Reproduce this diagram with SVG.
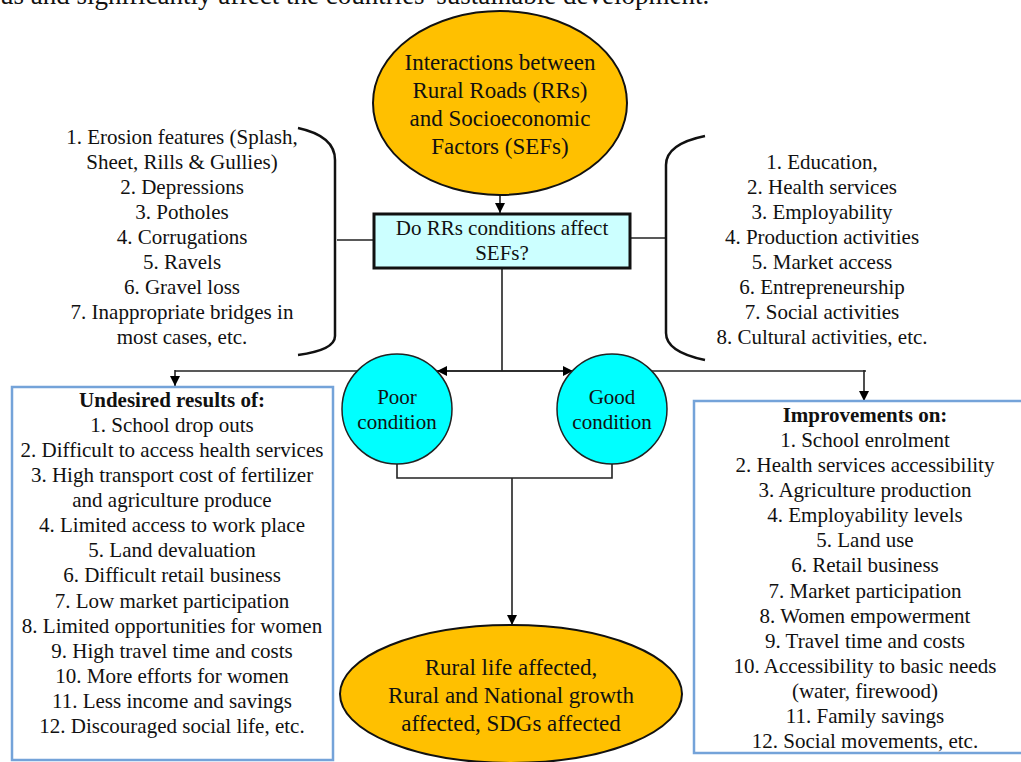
<svg xmlns="http://www.w3.org/2000/svg" width="1021" height="762" viewBox="0 0 1021 762">
<style>
text{font-family:"Liberation Serif","Times New Roman",serif;fill:#111;text-anchor:middle}
.t21{font-size:21px}
.t23{font-size:23px}
.b{font-weight:bold}
.ln{stroke:#222;stroke-width:1.6;fill:none}
.br{stroke:#111;stroke-width:2.5;fill:none}
.gold{fill:#ffc000;stroke:#111;stroke-width:2}
.cyan{fill:#00ffff;stroke:#222;stroke-width:1.5}
.blue{fill:#fff;stroke:#74a3d9;stroke-width:2.5}
</style>
<defs>
<marker id="ah" viewBox="0 0 10 10" refX="10" refY="5" markerWidth="10" markerHeight="10" markerUnits="userSpaceOnUse" orient="auto">
<path d="M0,0 L10,5 L0,10 z" fill="#000"/>
</marker>
</defs>
<rect width="1021" height="762" fill="#fff"/>
<text x="0" y="4" style="font-size:27px;text-anchor:start">us and significantly affect the countries' sustainable development.</text>

<g id="connectors">
<line class="ln" x1="500" y1="195" x2="500" y2="213" marker-end="url(#ah)"/>
<line class="ln" x1="337" y1="240" x2="373" y2="240"/>
<line class="ln" x1="630" y1="238" x2="666" y2="238"/>
<line class="ln" x1="502" y1="268" x2="502" y2="371"/>
<line class="ln" x1="175" y1="371" x2="866" y2="371"/>
<line class="ln" x1="502" y1="371" x2="437" y2="371" marker-end="url(#ah)"/>
<line class="ln" x1="502" y1="371" x2="573" y2="371" marker-end="url(#ah)"/>
<line class="ln" x1="175" y1="370" x2="175" y2="386" marker-end="url(#ah)"/>
<line class="ln" x1="864" y1="370" x2="864" y2="401" marker-end="url(#ah)"/>
<polyline class="ln" points="397,463 397,478 612,478 612,463"/>
<line class="ln" x1="512" y1="478" x2="512" y2="625" marker-end="url(#ah)"/>
</g>

<g id="top-node">
<ellipse class="gold" cx="500" cy="103" rx="127" ry="92"/>
<text class="t23" x="500" y="70">Interactions between</text>
<text class="t23" x="500" y="98">Rural Roads (RRs)</text>
<text class="t23" x="500" y="126">and Socioeconomic</text>
<text class="t23" x="500" y="154">Factors (SEFs)</text>
</g>

<g id="question-node">
<rect x="374" y="214" width="256" height="54" fill="#ccffff" stroke="#111" stroke-width="3"/>
<text class="t21" x="502" y="235">Do RRs conditions affect</text>
<text class="t21" x="502" y="260">SEFs?</text>
</g>

<g id="road-conditions">
<path class="br" d="M298,128 Q335,136 335,160 L335,336 Q335,350 298,355"/>
<text class="t21" x="182" y="144">1. Erosion features (Splash,</text>
<text class="t21" x="182" y="169">Sheet, Rills &amp;  Gullies)</text>
<text class="t21" x="182" y="194">2. Depressions</text>
<text class="t21" x="182" y="219">3. Potholes</text>
<text class="t21" x="182" y="244">4. Corrugations</text>
<text class="t21" x="182" y="269">5. Ravels</text>
<text class="t21" x="182" y="294">6. Gravel loss</text>
<text class="t21" x="182" y="319">7. Inappropriate bridges in</text>
<text class="t21" x="182" y="344">most cases, etc.</text>
</g>

<g id="sefs">
<path class="br" d="M705,136 Q666,144 666,165 L666,333 Q666,352 705,360"/>
<text class="t21" x="822" y="169">1. Education,</text>
<text class="t21" x="822" y="194">2. Health services</text>
<text class="t21" x="822" y="219">3. Employability</text>
<text class="t21" x="822" y="244">4. Production activities</text>
<text class="t21" x="822" y="269">5. Market access</text>
<text class="t21" x="822" y="294">6. Entrepreneurship</text>
<text class="t21" x="822" y="319">7. Social activities</text>
<text class="t21" x="822" y="344">8. Cultural activities, etc.</text>
</g>

<g id="poor-node">
<circle class="cyan" cx="397" cy="409" r="55"/>
<text class="t21" x="397" y="404">Poor</text>
<text class="t21" x="397" y="429">condition</text>
</g>

<g id="good-node">
<circle class="cyan" cx="612" cy="409" r="55"/>
<text class="t21" x="612" y="404">Good</text>
<text class="t21" x="612" y="429">condition</text>
</g>

<g id="undesired-node">
<rect class="blue" x="12" y="387" width="321" height="373"/>
<text class="t21 b" x="172" y="407">Undesired results of:</text>
<text class="t21" x="172" y="432">1. School drop outs</text>
<text class="t21" x="172" y="457">2. Difficult to access health services</text>
<text class="t21" x="172" y="482">3. High transport cost of fertilizer</text>
<text class="t21" x="172" y="507">and agriculture produce</text>
<text class="t21" x="172" y="532">4. Limited access to work place</text>
<text class="t21" x="172" y="557">5. Land devaluation</text>
<text class="t21" x="172" y="582">6. Difficult retail business</text>
<text class="t21" x="172" y="608">7. Low market participation</text>
<text class="t21" x="172" y="633">8. Limited opportunities for women</text>
<text class="t21" x="172" y="658">9. High travel time and costs</text>
<text class="t21" x="172" y="683">10. More efforts for women</text>
<text class="t21" x="172" y="708">11. Less income and savings</text>
<text class="t21" x="172" y="733">12. Discouraged social life, etc.</text>
</g>

<g id="improvements-node">
<rect class="blue" x="694" y="401" width="342" height="352"/>
<text class="t21 b" x="865" y="422">Improvements on:</text>
<text class="t21" x="865" y="447">1. School enrolment</text>
<text class="t21" x="865" y="472">2. Health services accessibility</text>
<text class="t21" x="865" y="497">3. Agriculture production</text>
<text class="t21" x="865" y="522">4. Employability levels</text>
<text class="t21" x="865" y="547">5. Land use</text>
<text class="t21" x="865" y="572">6. Retail business</text>
<text class="t21" x="865" y="598">7. Market participation</text>
<text class="t21" x="865" y="623">8. Women empowerment</text>
<text class="t21" x="865" y="648">9. Travel time and costs</text>
<text class="t21" x="865" y="673">10. Accessibility to basic needs</text>
<text class="t21" x="865" y="698">(water, firewood)</text>
<text class="t21" x="865" y="723">11. Family savings</text>
<text class="t21" x="865" y="748">12. Social movements, etc.</text>
</g>

<g id="outcome-node">
<ellipse class="gold" cx="511" cy="694" rx="171" ry="69"/>
<text class="t23" x="511" y="675">Rural life affected,</text>
<text class="t23" x="511" y="703">Rural and National growth</text>
<text class="t23" x="511" y="731">affected, SDGs affected</text>
</g>
</svg>
